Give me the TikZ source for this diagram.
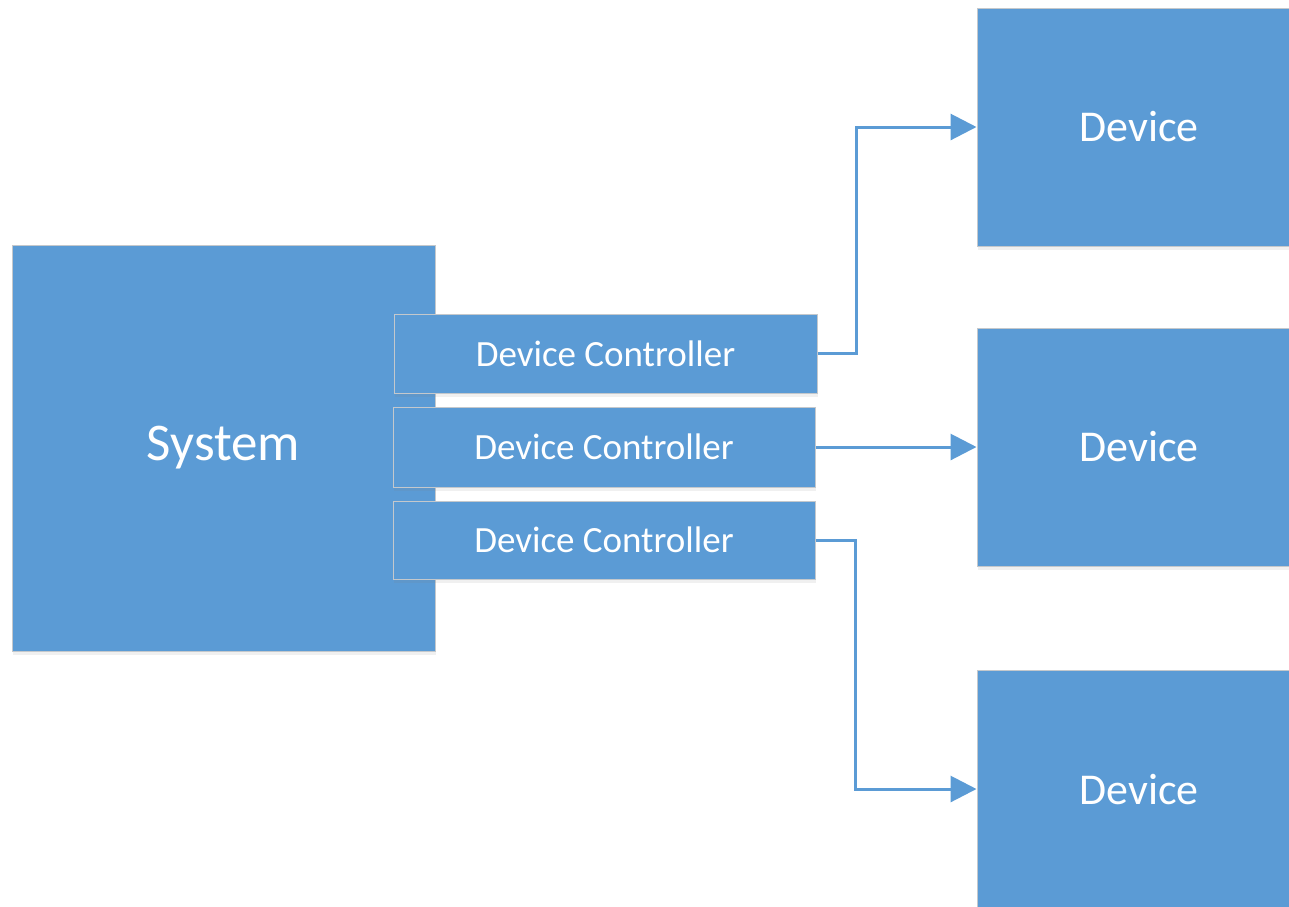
\documentclass[tikz,border=0pt]{standalone}
\usepackage{fontspec}
\setmainfont{Carlito}
\usetikzlibrary{arrows.meta,shadows}
\definecolor{boxblue}{HTML}{5B9BD5}
\definecolor{boxedge}{HTML}{C4C8CC}
\tikzset{
  bluebox/.style={draw=boxedge, line width=1pt, fill=boxblue, text=white,
    drop shadow={opacity=0.12, shadow xshift=1pt, shadow yshift=-4pt}},
  link/.style={draw=boxblue, line width=3pt,
    -{Triangle[length=26pt,width=26pt]}}
}
\begin{document}
\begin{tikzpicture}[x=1pt,y=1pt]
\useasboundingbox (0,0) rectangle (1289,-906);
\clip (0,0) rectangle (1289,-906);
% System
\node[bluebox, minimum width=423pt, minimum height=406pt, inner sep=0pt, font=\fontsize{53}{60}\selectfont] (sys) at (223.5,-448) {System};
% Device controllers
\node[bluebox, minimum width=423pt, minimum height=79pt, inner sep=0pt, font=\fontsize{37}{42}\selectfont] (dc1) at (605.5,-353.5) {Device Controller};
\node[bluebox, minimum width=422pt, minimum height=80pt, inner sep=0pt, font=\fontsize{37}{42}\selectfont] (dc2) at (604,-447) {Device Controller};
\node[bluebox, minimum width=422pt, minimum height=78pt, inner sep=0pt, font=\fontsize{37}{42}\selectfont] (dc3) at (604,-540) {Device Controller};
% Devices
\node[bluebox, minimum width=324pt, minimum height=238pt, inner sep=0pt, font=\fontsize{44}{50}\selectfont] (d1) at (1139,-127) {Device};
\node[bluebox, minimum width=324pt, minimum height=238pt, inner sep=0pt, font=\fontsize{44}{50}\selectfont] (d2) at (1139,-447) {Device};
\node[bluebox, minimum width=324pt, minimum height=238pt, inner sep=0pt, font=\fontsize{44}{50}\selectfont] (d3) at (1139,-789) {Device};
% Connectors
\draw[link] (dc1.east) -- ++(39,0) |- (d1.west);
\draw[link] (dc2.east) -- (d2.west);
\draw[link] (dc3.east) -- ++(40,0) |- (d3.west);
\end{tikzpicture}
\end{document}
